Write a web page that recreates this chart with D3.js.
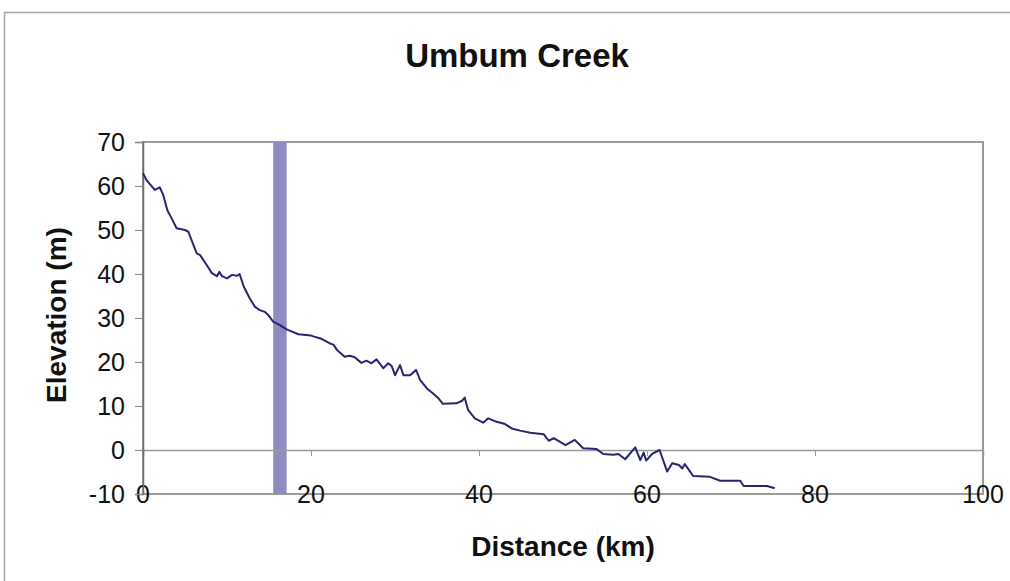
<!doctype html>
<html>
<head>
<meta charset="utf-8">
<title>Umbum Creek</title>
<script type="text/javascript" src="https://d3js.org/d3.v7.min.js"></script>
<style>
  body { margin: 0; background: #fff; }
  text { font-family: "Liberation Sans", Arial, sans-serif; }
</style>
</head>
<body>
<script type="text/javascript">

// long profile: distance (km) and elevation (m)
var distance = [0, 0.4, 1.4, 2.0, 2.4, 2.9, 3.4, 4.0, 5.0, 5.4, 6.0, 6.4, 6.8, 7.6, 8.2, 8.8, 9.1, 9.4, 10.0, 10.6,
    11.2, 11.5, 12.0, 12.7, 13.3, 13.9, 14.5, 14.9, 15.5, 16.3, 17.1, 18.5, 20.0, 21.2, 22.3, 22.7, 23.1, 24.0, 24.6, 25.2,
    26.0, 26.6, 27.2, 27.8, 28.6, 29.2, 29.6, 30.0, 30.6, 31.0, 31.8, 32.5, 33.0, 33.8, 34.5, 35.2, 35.7, 37.3, 38.0, 38.3,
    38.7, 39.5, 40.5, 41.1, 42.1, 43.1, 43.9, 44.9, 46.1, 47.7, 48.3, 48.9, 50.3, 51.4, 52.4, 54.0, 54.8, 56.0, 56.6, 57.4,
    58.6, 59.2, 59.6, 59.9, 60.6, 61.5, 62.4, 63.0, 63.8, 64.2, 64.5, 65.5, 67.5, 68.7, 71.1, 71.5, 74.3, 75.2];
var elevation = [62.9, 61.4, 59.1, 59.7, 58.0, 54.5, 52.7, 50.4, 50.0, 49.6, 46.6, 44.7, 44.3, 42.0, 40.2, 39.5, 40.5, 39.5, 39.0, 39.8,
    39.6, 40.0, 37.1, 34.5, 32.6, 31.8, 31.4, 30.7, 29.2, 28.4, 27.4, 26.3, 26.0, 25.3, 24.2, 23.9, 22.7, 21.2, 21.4, 21.1,
    19.8, 20.3, 19.7, 20.6, 18.6, 19.7, 19.1, 17.0, 19.3, 17.0, 17.0, 18.2, 15.9, 14.0, 12.9, 11.7, 10.5, 10.6, 11.2, 11.9,
    9.1, 7.2, 6.2, 7.2, 6.4, 5.9, 4.9, 4.4, 3.9, 3.6, 2.1, 2.7, 1.1, 2.3, 0.4, 0.2, -0.9, -1.1, -0.9, -2.1,
    0.6, -2.3, -0.6, -2.4, -0.9, 0, -4.9, -3.0, -3.4, -4.2, -3.2, -5.9, -6.1, -7.0, -7.0, -8.2, -8.2, -8.7];

// shaded reach (km)
var bandRange = [15.5, 17.1];

var xTicks = [0, 20, 40, 60, 80, 100];
var yTicks = [-10, 0, 10, 20, 30, 40, 50, 60, 70];

var chartTitle = "Umbum Creek";
var xTitle = "Distance (km)";
var yTitle = "Elevation (m)";

var width = 1010, height = 581;
// plot box (note: "top" is reserved on window, so use other names)
var plotL = 143, plotR = 983, plotT = 142, plotB = 494;

var svg = d3.select("body").append("svg")
    .attr("width", width)
    .attr("height", height);

// outer chart border
svg.append("rect")
    .attr("x", 4.5).attr("y", 12.5)
    .attr("width", 1010).attr("height", 600)
    .attr("fill", "none")
    .attr("stroke", "#a6a6a6")
    .attr("stroke-width", 1.5);

var x = d3.scaleLinear().domain([0, 100]).range([plotL, plotR]);
var y = d3.scaleLinear().domain([-10, 70]).range([plotB, plotT]);

// plot area frame
svg.append("rect")
    .attr("x", plotL).attr("y", plotT)
    .attr("width", plotR - plotL).attr("height", plotB - plotT)
    .attr("fill", "none")
    .attr("stroke", "#9a9a9a")
    .attr("stroke-width", 2);

// shaded band
svg.append("rect")
    .attr("x", x(bandRange[0]))
    .attr("y", plotT)
    .attr("width", x(bandRange[1]) - x(bandRange[0]))
    .attr("height", plotB - plotT)
    .attr("fill", "#8e8cc0");

// horizontal axis at zero with small ticks below
var xAxis = svg.append("g")
    .attr("transform", "translate(0," + y(0) + ")")
    .call(d3.axisBottom(x).tickValues(xTicks).tickSize(6).tickFormat(""));
xAxis.select(".domain").attr("stroke", "#9a9a9a").attr("stroke-width", 1.5);
xAxis.selectAll(".tick line").attr("stroke", "#9a9a9a");

// x tick labels sit at the bottom of the plot
svg.append("g").selectAll("text")
    .data(xTicks)
    .enter().append("text")
    .attr("x", function(d) { return x(d); })
    .attr("y", plotB + 9)
    .attr("text-anchor", "middle")
    .attr("font-size", 25)
    .attr("fill", "#111")
    .text(function(d) { return d; });

// vertical axis
var yAxis = svg.append("g")
    .attr("transform", "translate(" + plotL + ",0)")
    .call(d3.axisLeft(y).tickValues(yTicks).tickSize(8).tickPadding(10)
        .tickFormat(function(d) { return String(d); }));
yAxis.select(".domain").attr("stroke", "#6e6e6e").attr("stroke-width", 1.5);
yAxis.selectAll(".tick line").attr("stroke", "#8a8a8a");
yAxis.selectAll(".tick text")
    .attr("font-size", 25)
    .attr("font-family", "Liberation Sans, Arial, sans-serif")
    .attr("fill", "#111");

// profile line
var line = d3.line()
    .x(function(d, i) { return x(distance[i]); })
    .y(function(d) { return y(d); });

svg.append("path")
    .datum(elevation)
    .attr("d", line)
    .attr("fill", "none")
    .attr("stroke", "#262670")
    .attr("stroke-width", 2)
    .attr("stroke-linejoin", "round");

// titles
svg.append("text")
    .attr("x", 517).attr("y", 67)
    .attr("text-anchor", "middle")
    .attr("font-size", 33)
    .attr("font-weight", "bold")
    .attr("fill", "#111")
    .text(chartTitle);

svg.append("text")
    .attr("x", 563).attr("y", 556)
    .attr("text-anchor", "middle")
    .attr("font-size", 28)
    .attr("font-weight", "bold")
    .attr("fill", "#111")
    .text(xTitle);

svg.append("text")
    .attr("transform", "translate(66,315) rotate(-90)")
    .attr("text-anchor", "middle")
    .attr("font-size", 28)
    .attr("font-weight", "bold")
    .attr("fill", "#111")
    .text(yTitle);

</script>
</body>
</html>
